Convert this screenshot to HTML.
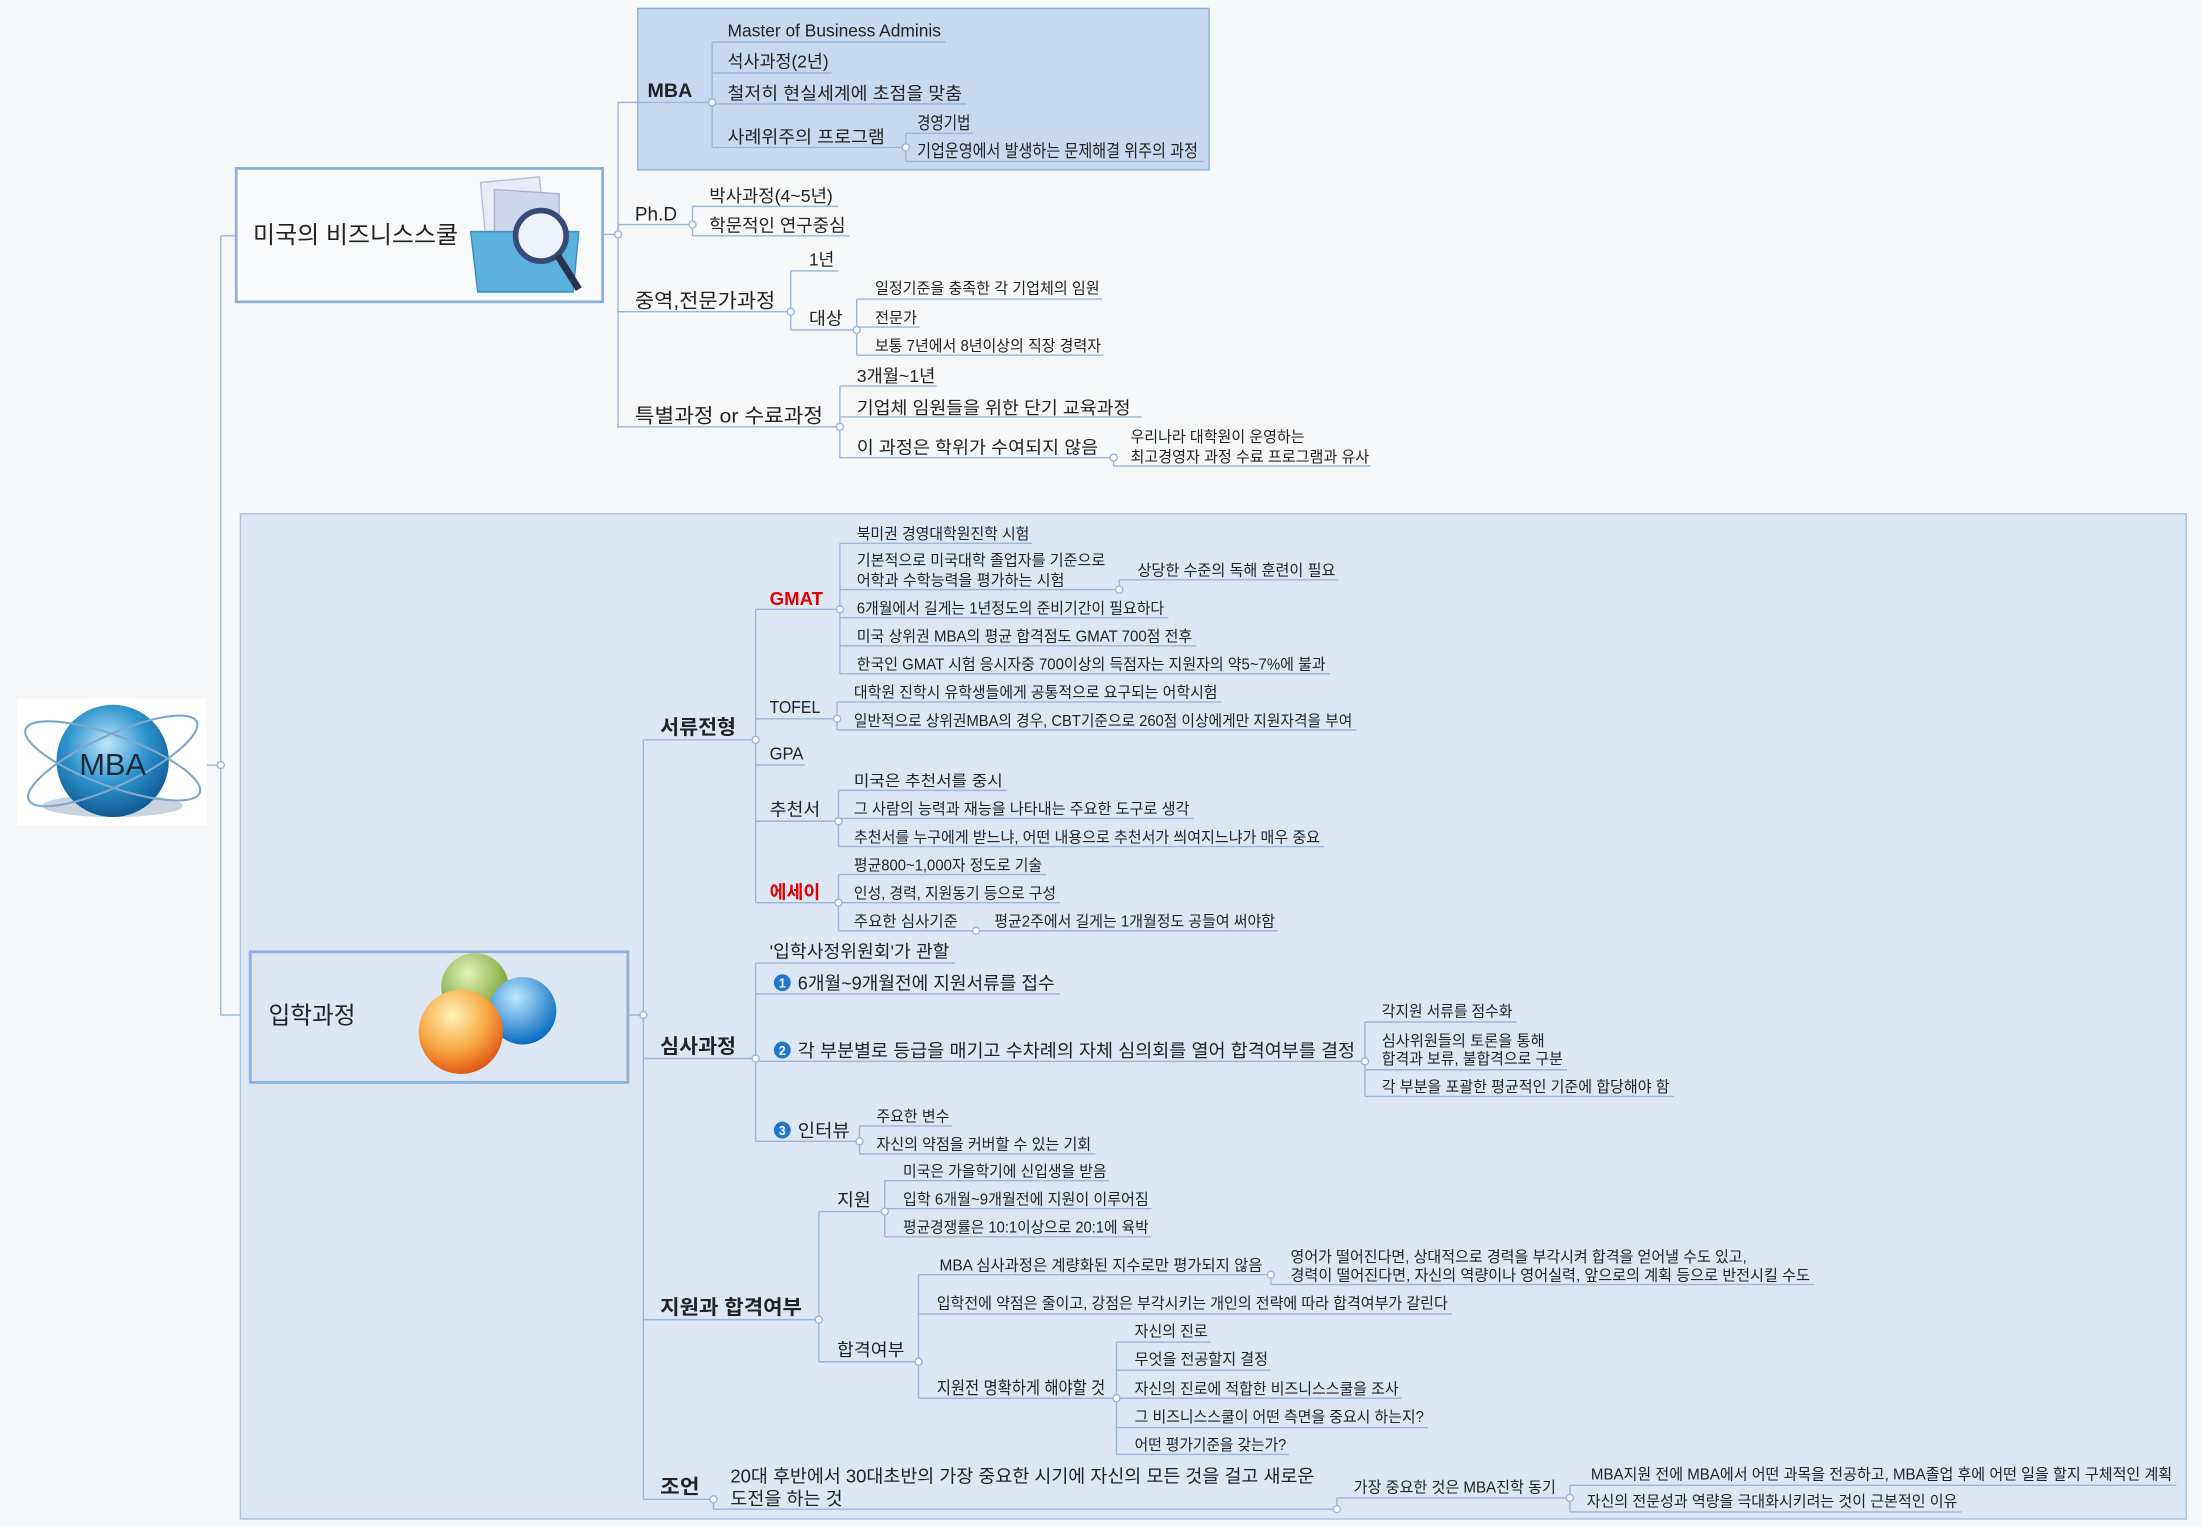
<!DOCTYPE html>
<html><head><meta charset="utf-8"><style>
html,body{margin:0;padding:0;background:#f6f7f8;}
svg{display:block;}
text{font-family:"Liberation Sans","Noto Sans CJK KR",sans-serif;fill:#222;font-size:11px;}
.m{font-size:12.5px}
.b{font-size:14px;font-weight:bold}
.r{fill:#e00000}
.t{font-size:14px}
.n{fill:#fff;font-size:9px;font-weight:bold}
path{fill:none;stroke:#9cb6d9;stroke-width:1}
</style></head><body>
<svg width="2202" height="1526" viewBox="0 0 1568 1087" xmlns="http://www.w3.org/2000/svg">
<defs>
<radialGradient id="gl" cx="0.45" cy="0.35" r="0.7"><stop offset="0" stop-color="#bfe6fb"/><stop offset="0.5" stop-color="#2e95cf"/><stop offset="1" stop-color="#0b4f88"/></radialGradient>
<radialGradient id="gg" cx="0.4" cy="0.3" r="0.7"><stop offset="0" stop-color="#e5f2b8"/><stop offset="1" stop-color="#6c9b2a"/></radialGradient>
<radialGradient id="gb" cx="0.4" cy="0.3" r="0.7"><stop offset="0" stop-color="#bfe8ff"/><stop offset="1" stop-color="#0a6cc0"/></radialGradient>
<radialGradient id="go" cx="0.4" cy="0.3" r="0.7"><stop offset="0" stop-color="#fff2b8"/><stop offset="0.6" stop-color="#f8a743"/><stop offset="1" stop-color="#e05a16"/></radialGradient>
</defs>
<rect x="0" y="0" width="1568" height="1087" fill="#f6f7f8" style="stroke:none"/>
<!-- root -->
<rect x="12" y="498" width="135" height="90" fill="#fff"/>
<ellipse cx="80" cy="574" rx="50" ry="8" fill="#c9d4de"/>
<circle cx="80" cy="542" r="40" fill="url(#gl)"/>
<ellipse cx="80" cy="542" rx="66" ry="18" fill="none" stroke="#7fa9cc" stroke-width="1.5" transform="rotate(20 80 542)"/>
<ellipse cx="80" cy="542" rx="66" ry="18" fill="none" stroke="#7fa9cc" stroke-width="1.5" transform="rotate(-25 80 542)"/>
<text x="80" y="552" text-anchor="middle" style="font-size:22px;fill:#1b2a3a">MBA</text>
<path d="M147 545H157M157 168V723M157 168H168M157 723H178"/>
<!-- box1 -->
<rect x="168" y="120" width="261" height="95" fill="#f8f9fa" stroke="#8fb0d8" stroke-width="2"/>
<text x="180" y="173" style="font-size:17px" textLength="146" lengthAdjust="spacingAndGlyphs">미국의 비즈니스스쿨</text>
<path d="M342 130L384 126L390 190L348 194Z" style="fill:#e8eaf4;stroke:#b8bfd6"/>
<path d="M352 135L398 138L398 195L352 195Z" style="fill:#d0d6ee;stroke:#a8b0d0"/>
<path d="M335 165H412L408 208H340Z" style="fill:#5bb0dc;stroke:#3c8fc0"/>
<circle cx="385" cy="168" r="18" fill="#eef3fb" stroke="#3a4a78" stroke-width="4"/>
<path d="M397 182L412 206" style="stroke:#2a3050;stroke-width:5"/>
<path d="M429 167H440M440 73V305"/>
<!-- MBA group -->
<rect x="454" y="6" width="407" height="115" fill="#c7d9f0" stroke="#8fb0d8" stroke-width="1"/>
<text x="461" y="69" class="b">MBA</text>
<path d="M440 73H507M507 30V105M507 30H673M507 52H592M507 74H688M507 105H645M645 95V115M645 95H693M645 115H857"/>
<text x="518" y="26" class="m" textLength="152" lengthAdjust="spacingAndGlyphs">Master of Business Adminis</text>
<text x="518" y="48" class="m" textLength="72" lengthAdjust="spacingAndGlyphs">석사과정(2년)</text>
<text x="518" y="71" class="m" textLength="167" lengthAdjust="spacingAndGlyphs">철저히 현실세계에 초점을 맞춤</text>
<text x="518" y="102" class="m" textLength="112" lengthAdjust="spacingAndGlyphs">사례위주의 프로그램</text>
<text x="653" y="92" class="m" textLength="38" lengthAdjust="spacingAndGlyphs">경영기법</text>
<text x="653" y="112" class="m" textLength="200" lengthAdjust="spacingAndGlyphs">기업운영에서 발생하는 문제해결 위주의 과정</text>
<!-- PhD -->
<path d="M440 160H493M493 147V168M493 147H597M493 168H605"/>
<text x="452" y="157" class="t" textLength="30" lengthAdjust="spacingAndGlyphs">Ph.D</text>
<text x="505" y="144" class="m" textLength="88" lengthAdjust="spacingAndGlyphs">박사과정(4~5년)</text>
<text x="505" y="165" class="m" textLength="97" lengthAdjust="spacingAndGlyphs">학문적인 연구중심</text>
<!-- 중역 -->
<path d="M440 222H563M563 193V235M563 193H597M563 235H610M610 213V253M610 213H785M610 233H655M610 253H786"/>
<text x="452" y="219" class="t" textLength="100" lengthAdjust="spacingAndGlyphs">중역,전문가과정</text>
<text x="576" y="189" class="m" textLength="18" lengthAdjust="spacingAndGlyphs">1년</text>
<text x="576" y="231" class="m" textLength="24" lengthAdjust="spacingAndGlyphs">대상</text>
<text x="623" y="209" textLength="160" lengthAdjust="spacingAndGlyphs">일정기준을 충족한 각 기업체의 임원</text>
<text x="623" y="230" textLength="30" lengthAdjust="spacingAndGlyphs">전문가</text>
<text x="623" y="250" textLength="161" lengthAdjust="spacingAndGlyphs">보통 7년에서 8년이상의 직장 경력자</text>
<!-- 특별 -->
<path d="M440 304H598M598 275V326M598 275H667M598 297H813M598 326H793M793 326V332M793 332H976"/>
<text x="452" y="301" class="t" textLength="134" lengthAdjust="spacingAndGlyphs">특별과정 or 수료과정</text>
<text x="610" y="272" class="m" textLength="56" lengthAdjust="spacingAndGlyphs">3개월~1년</text>
<text x="610" y="295" class="m" textLength="195" lengthAdjust="spacingAndGlyphs">기업체 임원들을 위한 단기 교육과정</text>
<text x="610" y="323" class="m" textLength="172" lengthAdjust="spacingAndGlyphs">이 과정은 학위가 수여되지 않음</text>
<text x="805" y="315" textLength="124" lengthAdjust="spacingAndGlyphs">우리나라 대학원이 운영하는</text>
<text x="805" y="329" textLength="170" lengthAdjust="spacingAndGlyphs">최고경영자 과정 수료 프로그램과 유사</text>
<!-- box2 -->
<rect x="171" y="366" width="1386" height="716" fill="#dce7f3" stroke="#a8c0e0" stroke-width="1"/>
<rect x="178" y="678" width="269" height="93" fill="#dde7f3" stroke="#8fb0d8" stroke-width="2"/>
<text x="191" y="729" style="font-size:17px" textLength="62" lengthAdjust="spacingAndGlyphs">입학과정</text>
<circle cx="338" cy="703" r="24" fill="url(#gg)"/>
<circle cx="372" cy="720" r="24" fill="url(#gb)"/>
<circle cx="328" cy="735" r="30" fill="url(#go)"/>
<path d="M447 723H458M458 527V1068"/>
<!-- 서류전형 -->
<path d="M458 527H538M538 434V643"/>
<text x="470" y="523" class="b" textLength="54" lengthAdjust="spacingAndGlyphs">서류전형</text>
<path d="M538 434H598M598 387V480M598 387H735M598 420H797M797 413V420M797 413H953M598 440H832M598 460H852M598 480H947"/>
<text x="548" y="431" class="b r" style="font-size:13px" textLength="38" lengthAdjust="spacingAndGlyphs">GMAT</text>
<text x="610" y="384" textLength="123" lengthAdjust="spacingAndGlyphs">북미권 경영대학원진학 시험</text>
<text x="610" y="403" textLength="177" lengthAdjust="spacingAndGlyphs">기본적으로 미국대학 졸업자를 기준으로</text>
<text x="610" y="417" textLength="148" lengthAdjust="spacingAndGlyphs">어학과 수학능력을 평가하는 시험</text>
<text x="810" y="410" textLength="141" lengthAdjust="spacingAndGlyphs">상당한 수준의 독해 훈련이 필요</text>
<text x="610" y="437" textLength="219" lengthAdjust="spacingAndGlyphs">6개월에서 길게는 1년정도의 준비기간이 필요하다</text>
<text x="610" y="457" textLength="239" lengthAdjust="spacingAndGlyphs">미국 상위권 MBA의 평균 합격점도 GMAT 700점 전후</text>
<text x="610" y="477" textLength="334" lengthAdjust="spacingAndGlyphs">한국인 GMAT 시험 응시자중 700이상의 득점자는 지원자의 약5~7%에 불과</text>
<path d="M538 512H596M596 500V520M596 500H870M596 520H966"/>
<text x="548" y="508" class="m" textLength="36" lengthAdjust="spacingAndGlyphs">TOFEL</text>
<text x="608" y="497" textLength="259" lengthAdjust="spacingAndGlyphs">대학원 진학시 유학생들에게 공통적으로 요구되는 어학시험</text>
<text x="608" y="517" textLength="355" lengthAdjust="spacingAndGlyphs">일반적으로 상위권MBA의 경우, CBT기준으로 260점 이상에게만 지원자격을 부여</text>
<path d="M538 545H573"/>
<text x="548" y="541" class="m" textLength="24" lengthAdjust="spacingAndGlyphs">GPA</text>
<path d="M538 585H597M597 563V603M597 563H717M597 583H850M597 603H943"/>
<text x="548" y="581" class="m" textLength="36" lengthAdjust="spacingAndGlyphs">추천서</text>
<text x="608" y="560" textLength="106" lengthAdjust="spacingAndGlyphs">미국은 추천서를 중시</text>
<text x="608" y="580" textLength="239" lengthAdjust="spacingAndGlyphs">그 사람의 능력과 재능을 나타내는 주요한 도구로 생각</text>
<text x="608" y="600" textLength="332" lengthAdjust="spacingAndGlyphs">추천서를 누구에게 받느냐, 어떤 내용으로 추천서가 씌여지느냐가 매우 중요</text>
<path d="M538 643H597M597 623V663M597 623H745M597 643H755M597 663H695M695 663H910"/>
<text x="548" y="640" class="b r" style="font-size:13px" textLength="36" lengthAdjust="spacingAndGlyphs">에세이</text>
<text x="608" y="620" textLength="134" lengthAdjust="spacingAndGlyphs">평균800~1,000자 정도로 기술</text>
<text x="608" y="640" textLength="144" lengthAdjust="spacingAndGlyphs">인성, 경력, 지원동기 등으로 구성</text>
<text x="608" y="660" textLength="74" lengthAdjust="spacingAndGlyphs">주요한 심사기준</text>
<text x="708" y="660" textLength="200" lengthAdjust="spacingAndGlyphs">평균2주에서 길게는 1개월정도 공들여 써야함</text>
<!-- 심사과정 -->
<path d="M458 754H538M538 686V813M538 686H680M538 708H755M538 756H972M972 728V781M972 728H1080M972 762H1116M972 781H1192M538 813H612M612 802V822M612 802H678M612 822H780"/>
<text x="470" y="750" class="b" textLength="54" lengthAdjust="spacingAndGlyphs">심사과정</text>
<text x="548" y="682" class="m" textLength="128" lengthAdjust="spacingAndGlyphs">'입학사정위원회'가 관할</text>
<circle cx="557" cy="700" r="6" fill="#1f78d0"/><text x="557" y="703.5" class="n" text-anchor="middle">1</text>
<text x="568" y="705" style="font-size:13px" textLength="183" lengthAdjust="spacingAndGlyphs">6개월~9개월전에 지원서류를 접수</text>
<circle cx="557" cy="748" r="6" fill="#1f78d0"/><text x="557" y="751.5" class="n" text-anchor="middle">2</text>
<text x="568" y="753" style="font-size:13px" textLength="397" lengthAdjust="spacingAndGlyphs">각 부분별로 등급을 매기고 수차례의 자체 심의회를 열어 합격여부를 결정</text>
<text x="984" y="724" textLength="93" lengthAdjust="spacingAndGlyphs">각지원 서류를 점수화</text>
<text x="984" y="745" textLength="116" lengthAdjust="spacingAndGlyphs">심사위원들의 토론을 통해</text>
<text x="984" y="758" textLength="129" lengthAdjust="spacingAndGlyphs">합격과 보류, 불합격으로 구분</text>
<text x="984" y="778" textLength="205" lengthAdjust="spacingAndGlyphs">각 부분을 포괄한 평균적인 기준에 합당해야 함</text>
<circle cx="557" cy="805" r="6" fill="#1f78d0"/><text x="557" y="808.5" class="n" text-anchor="middle">3</text>
<text x="568" y="810" style="font-size:13px" textLength="37" lengthAdjust="spacingAndGlyphs">인터뷰</text>
<text x="624" y="799" textLength="52" lengthAdjust="spacingAndGlyphs">주요한 변수</text>
<text x="624" y="819" textLength="153" lengthAdjust="spacingAndGlyphs">자신의 약점을 커버할 수 있는 기회</text>
<!-- 지원과 합격여부 -->
<path d="M458 940H583M583 863V970M583 863H630M630 841V881M630 841H790M630 861H820M630 881H820M583 970H654M654 908V996M654 908H905M905 908V915M905 915H1292M654 936H1034M654 996H795M795 956V1036M795 956H862M795 976H905M795 996H998M795 1017H1017M795 1036H918"/>
<text x="470" y="936" class="b" textLength="101" lengthAdjust="spacingAndGlyphs">지원과 합격여부</text>
<text x="596" y="859" class="m" textLength="24" lengthAdjust="spacingAndGlyphs">지원</text>
<text x="643" y="838" textLength="145" lengthAdjust="spacingAndGlyphs">미국은 가을학기에 신입생을 받음</text>
<text x="643" y="858" textLength="175" lengthAdjust="spacingAndGlyphs">입학 6개월~9개월전에 지원이 이루어짐</text>
<text x="643" y="878" textLength="175" lengthAdjust="spacingAndGlyphs">평균경쟁률은 10:1이상으로 20:1에 육박</text>
<text x="596" y="966" class="m" textLength="48" lengthAdjust="spacingAndGlyphs">합격여부</text>
<text x="669" y="905" textLength="230" lengthAdjust="spacingAndGlyphs">MBA 심사과정은 계량화된 지수로만 평가되지 않음</text>
<text x="919" y="899" textLength="325" lengthAdjust="spacingAndGlyphs">영어가 떨어진다면, 상대적으로 경력을 부각시켜 합격을 얻어낼 수도 있고,</text>
<text x="919" y="912" textLength="370" lengthAdjust="spacingAndGlyphs">경력이 떨어진다면, 자신의 역량이나 영어실력, 앞으로의 계획 등으로 반전시킬 수도</text>
<text x="667" y="932" textLength="364" lengthAdjust="spacingAndGlyphs">입학전에 약점은 줄이고, 강점은 부각시키는 개인의 전략에 따라 합격여부가 갈린다</text>
<text x="667" y="993" class="m" textLength="120" lengthAdjust="spacingAndGlyphs">지원전 명확하게 해야할 것</text>
<text x="808" y="952" textLength="52" lengthAdjust="spacingAndGlyphs">자신의 진로</text>
<text x="808" y="972" textLength="95" lengthAdjust="spacingAndGlyphs">무엇을 전공할지 결정</text>
<text x="808" y="993" textLength="188" lengthAdjust="spacingAndGlyphs">자신의 진로에 적합한 비즈니스스쿨을 조사</text>
<text x="808" y="1013" textLength="206" lengthAdjust="spacingAndGlyphs">그 비즈니스스쿨이 어떤 측면을 중요시 하는지?</text>
<text x="808" y="1033" textLength="108" lengthAdjust="spacingAndGlyphs">어떤 평가기준을 갖는가?</text>
<!-- 조언 -->
<path d="M458 1068H508M508 1068V1075M508 1075H952M952 1067V1075M952 1067H1118M1118 1058V1077M1118 1058H1550M1118 1077H1397"/>
<text x="470" y="1064" class="b" textLength="28" lengthAdjust="spacingAndGlyphs">조언</text>
<text x="520" y="1056" style="font-size:13px" textLength="416" lengthAdjust="spacingAndGlyphs">20대 후반에서 30대초반의 가장 중요한 시기에 자신의 모든 것을 걸고 새로운</text>
<text x="520" y="1072" style="font-size:13px" textLength="80" lengthAdjust="spacingAndGlyphs">도전을 하는 것</text>
<text x="964" y="1063" textLength="144" lengthAdjust="spacingAndGlyphs">가장 중요한 것은 MBA진학 동기</text>
<text x="1133" y="1054" textLength="414" lengthAdjust="spacingAndGlyphs">MBA지원 전에 MBA에서 어떤 과목을 전공하고, MBA졸업 후에 어떤 일을 할지 구체적인 계획</text>
<text x="1130" y="1073" textLength="264" lengthAdjust="spacingAndGlyphs">자신의 전문성과 역량을 극대화시키려는 것이 근본적인 이유</text>
<!-- junction dots -->
<g fill="#fff" stroke="#9cb6d9">
<circle cx="157" cy="545" r="2.5"/><circle cx="440" cy="167" r="2.5"/><circle cx="507" cy="73" r="2.5"/><circle cx="645" cy="105" r="2.5"/><circle cx="493" cy="160" r="2.5"/><circle cx="563" cy="222" r="2.5"/><circle cx="610" cy="235" r="2.5"/><circle cx="598" cy="304" r="2.5"/><circle cx="793" cy="326" r="2.5"/>
<circle cx="458" cy="723" r="2.5"/><circle cx="538" cy="527" r="2.5"/><circle cx="598" cy="434" r="2.5"/><circle cx="797" cy="420" r="2.5"/><circle cx="596" cy="512" r="2.5"/><circle cx="597" cy="585" r="2.5"/><circle cx="597" cy="643" r="2.5"/><circle cx="695" cy="663" r="2.5"/><circle cx="538" cy="754" r="2.5"/><circle cx="972" cy="756" r="2.5"/><circle cx="612" cy="813" r="2.5"/><circle cx="583" cy="940" r="2.5"/><circle cx="630" cy="863" r="2.5"/><circle cx="654" cy="970" r="2.5"/><circle cx="905" cy="908" r="2.5"/><circle cx="795" cy="996" r="2.5"/><circle cx="508" cy="1068" r="2.5"/><circle cx="952" cy="1075" r="2.5"/><circle cx="1118" cy="1067" r="2.5"/>
</g>
</svg>
</body></html>
